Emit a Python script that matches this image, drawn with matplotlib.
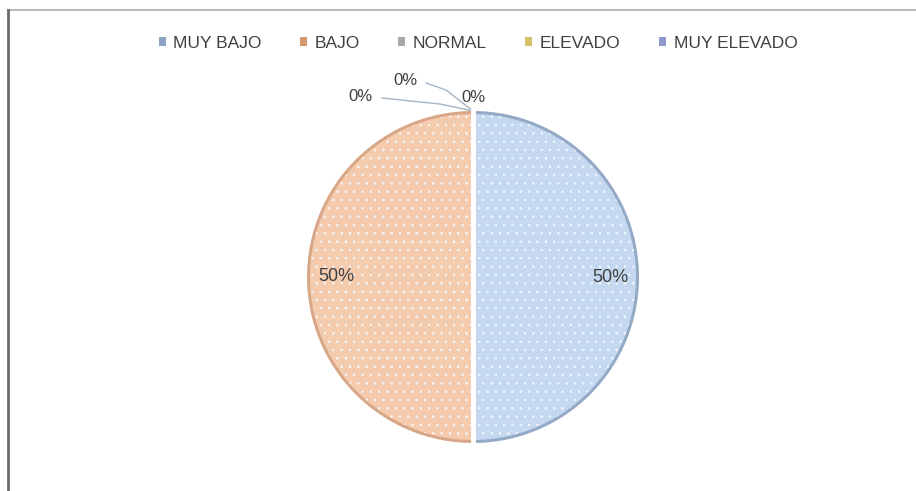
import matplotlib
matplotlib.use("Agg")
import matplotlib.pyplot as plt
from matplotlib.patches import Patch
from matplotlib.lines import Line2D

plt.rcParams['font.family'] = ['Liberation Sans', 'DejaVu Sans']
plt.rcParams['hatch.linewidth'] = 0.6

categories = ["MUY BAJO", "BAJO", "NORMAL", "ELEVADO", "MUY ELEVADO"]
values = [50, 50, 0, 0, 0]
fill_colors = ["#c4d8ef", "#f5cbad", "#d9d9d9", "#fbe6a6", "#c2cbe8"]
rim_colors = ["#93a9c5", "#d7a788", "#a5a5a5", "#d9c06a", "#8e9bc9"]
legend_colors = ["#8ea4c4", "#d39a72", "#a8a8a8", "#d6c26c", "#8d98cc"]

W, H = 916, 491
fig = plt.figure(figsize=(W / 100, H / 100), dpi=100)
ax = fig.add_axes([0, 0, 1, 1])

cx, cy, r = 473, H - 277, 166

# darker rim giving the bevelled edge
ax.pie(values, colors=rim_colors, startangle=90, counterclock=False,
       center=(cx, cy), radius=r, frame=True,
       wedgeprops=dict(width=6, linewidth=0))

# main dotted fill
wedges, texts, autotexts = ax.pie(
    values, colors=fill_colors, startangle=90, counterclock=False,
    center=(cx, cy), radius=r - 3, frame=True,
    autopct=lambda p: f"{p:.0f}%" if p > 0 else "",
    pctdistance=0.84,
    wedgeprops=dict(edgecolor="#f4f6f9", linewidth=0, hatch=".."),
    textprops=dict(fontsize=13, color="#404040"))

# white separator between the two halves
ax.plot([cx, cx], [cy - r - 1, cy + r + 1], color="white", lw=3.5, zorder=5)

# labels for the empty categories, with leader lines to the top of the pie
top = (cx, cy + r)
zero_labels = [
    ((473, H - 97), None),
    ((405, H - 80), [(426, H - 83), (446, H - 90), top]),
    ((360, H - 96), [(382, H - 98), (440, H - 104), top]),
]
for (lx, ly), leader in zero_labels:
    ax.text(lx, ly, "0%", fontsize=12, color="#404040",
            ha="center", va="center", zorder=6)
    if leader:
        xs, ys = zip(*leader)
        ax.plot(xs, ys, color="#a6b4c4", lw=1, zorder=4)

ax.set_xlim(0, W)
ax.set_ylim(0, H)
ax.set_aspect("equal")
ax.axis("off")

handles = [Patch(facecolor=c, edgecolor="none") for c in legend_colors]
fig.legend(handles, categories, loc="center", bbox_to_anchor=(478 / W, 1 - 43 / H),
           ncol=5, frameon=False, fontsize=12.5, handlelength=0.4, handleheight=0.4,
           handletextpad=0.45, columnspacing=2.2, labelcolor="#404040")

# chart border (top and left edges)
fig.add_artist(Line2D([8 / W, 1], [1 - 10 / H, 1 - 10 / H], color="#b8b8b8", lw=1.5))
fig.add_artist(Line2D([8 / W, 8 / W], [0, 1 - 10 / H], color="#6a6a6a", lw=2))

fig.savefig("out.png", dpi=100)
